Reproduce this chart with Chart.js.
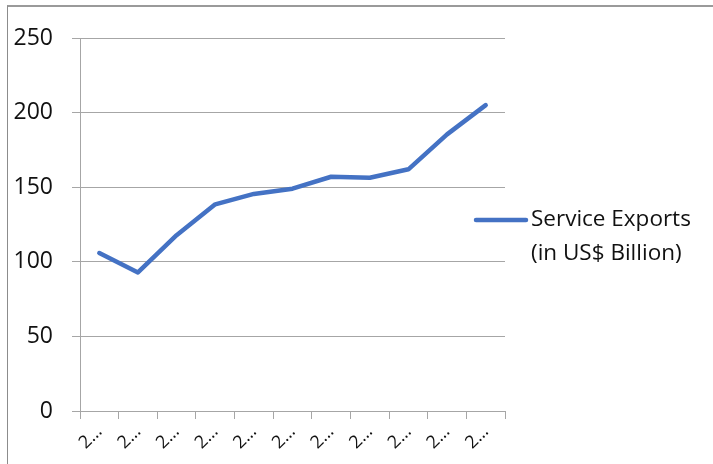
<!DOCTYPE html>
<html>
<head>
<meta charset="utf-8">
<title>Service Exports</title>
<script src="https://cdn.jsdelivr.net/npm/chart.js@4.4.1/dist/chart.umd.min.js"></script>
<style>
  html, body { margin: 0; padding: 0; background: #fff; overflow: hidden; }
  #wrap { position: relative; width: 713px; height: 464px; }
  #frame {
    position: absolute; left: 7px; top: 5px; width: 760px; height: 520px;
    border-left: 1px solid #8c8c8c; border-top: 2px solid #9a9a9a;
  }
  #chart { position: absolute; left: 0; top: 0; }
</style>
</head>
<body>
<div id="wrap">
  <div id="frame"></div>
  <canvas id="chart" width="713" height="464"></canvas>
</div>
<script>
  // fiscal years (axis shows them clipped to "2…")
  const years = ['2008-09', '2009-10', '2010-11', '2011-12', '2012-13', '2013-14',
                 '2014-15', '2015-16', '2016-17', '2017-18', '2018-19'];
  const exportsBn = [105.9, 92.9, 117.8, 138.5, 145.5, 149.0, 157.0, 156.3, 162.0, 185.4, 205.0];
  const yTicks = [0, 50, 100, 150, 200, 250];
  const seriesName = 'Service Exports (in US$ Billion)';
  const legendLines = ['Service Exports', '(in US$ Billion)'];

  const FONT = '"Open Sans", "Noto Sans", sans-serif';
  const BLUE = '#4472C4';
  const GRID = '#a6a6a6';

  // legend sits to the right and wraps onto two lines, so draw it by hand
  const sideLegend = {
    id: 'sideLegend',
    afterDraw(chart) {
      const ctx = chart.ctx;
      const ds = chart.data.datasets[0];
      const x0 = chart.chartArea.right - 31;
      const y0 = 220;
      ctx.save();
      ctx.strokeStyle = ds.borderColor;
      ctx.lineWidth = ds.borderWidth;
      ctx.lineCap = 'round';
      ctx.beginPath();
      ctx.moveTo(x0 + 2, y0);
      ctx.lineTo(x0 + 52, y0);
      ctx.stroke();
      ctx.fillStyle = '#111';
      ctx.font = '22.5px ' + FONT;
      ctx.textBaseline = 'middle';
      ctx.textAlign = 'left';
      legendLines.forEach((t, i) => ctx.fillText(t, x0 + 57, y0 + i * 34));
      ctx.restore();
    }
  };

  new Chart(document.getElementById('chart'), {
    type: 'line',
    data: {
      labels: years,
      datasets: [{
        label: seriesName,
        data: exportsBn,
        borderColor: BLUE,
        backgroundColor: BLUE,
        borderWidth: 4.5,
        borderCapStyle: 'round',
        borderJoinStyle: 'round',
        pointRadius: 0,
        pointHoverRadius: 0,
        tension: 0,
        fill: false
      }]
    },
    options: {
      responsive: false,
      animation: false,
      layout: { padding: { left: 0, right: 208, top: 38, bottom: 0 } },
      plugins: {
        legend: { display: false },
        tooltip: { enabled: false }
      },
      scales: {
        x: {
          offset: true,
          afterFit: s => { s.height = 53; },
          grid: {
            offset: true,
            drawOnChartArea: false,
            drawTicks: true,
            tickLength: 8,
            color: GRID,
            lineWidth: 1
          },
          border: { color: GRID, width: 1 },
          ticks: {
            autoSkip: false,
            maxRotation: 45,
            minRotation: 45,
            padding: 2,
            color: '#111',
            font: { family: FONT, size: 18 },
            callback: (v, i) => years[i].charAt(0) + '…'
          }
        },
        y: {
          min: yTicks[0],
          max: yTicks[yTicks.length - 1],
          afterFit: s => { s.width = 80; },
          afterBuildTicks: s => { s.ticks = yTicks.map(v => ({ value: v })); },
          grid: { color: GRID, lineWidth: 1, tickLength: 8 },
          border: { color: GRID, width: 1 },
          ticks: {
            padding: 19,
            color: '#111',
            font: { family: FONT, size: 23 }
          }
        }
      }
    },
    plugins: [sideLegend]
  });
</script>
</body>
</html>
